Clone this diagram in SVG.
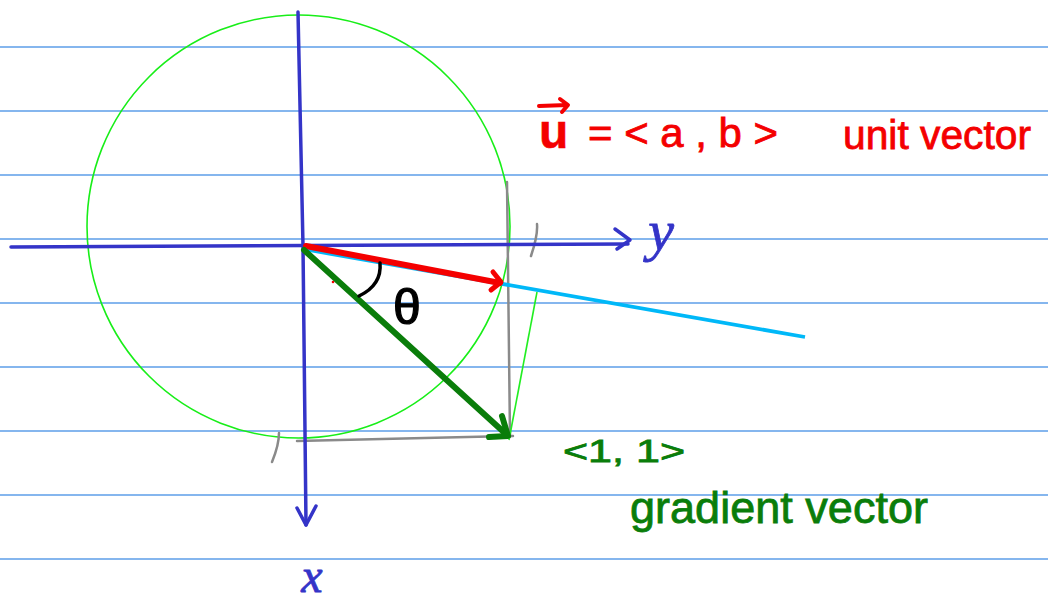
<svg xmlns="http://www.w3.org/2000/svg" width="1048" height="604" viewBox="0 0 1048 604">
<style>
.rule{stroke:#5d9ee8;stroke-width:1.6}
.ax{stroke:#3434c8;stroke-width:3.5;fill:none;stroke-linecap:round;stroke-linejoin:round}
.gray{stroke:#8a8a8a;stroke-width:2.5;fill:none;stroke-linecap:round}
.hw{font-family:"Liberation Sans","DejaVu Sans",sans-serif}
.math{font-family:"Liberation Serif","DejaVu Serif",serif;font-style:italic}
</style>
<rect width="1048" height="604" fill="#fff"/>
<g id="paper">
<line class="rule" x1="0" y1="47" x2="1048" y2="47"/>
<line class="rule" x1="0" y1="111" x2="1048" y2="111"/>
<line class="rule" x1="0" y1="175" x2="1048" y2="175"/>
<line class="rule" x1="0" y1="239" x2="1048" y2="239"/>
<line class="rule" x1="0" y1="303" x2="1048" y2="303"/>
<line class="rule" x1="0" y1="367" x2="1048" y2="367"/>
<line class="rule" x1="0" y1="431" x2="1048" y2="431"/>
<line class="rule" x1="0" y1="495" x2="1048" y2="495"/>
<line class="rule" x1="0" y1="559" x2="1048" y2="559"/>
</g>
<g id="circle">
<ellipse cx="298.5" cy="226.5" rx="211.5" ry="211.5" fill="none" stroke="#18ee18" stroke-width="1.6"/>
</g>
<g id="connectors">
<line class="gray" x1="507" y1="182" x2="510" y2="437"/>
<line class="gray" x1="297" y1="441" x2="513" y2="436"/>
<path class="gray" d="M537 224 Q538 235 531 256"/>
<path class="gray" d="M279 433 Q279 445 272 462"/>
<line x1="537" y1="292" x2="509" y2="440" stroke="#22ee22" stroke-width="1.6"/>
<path class="ax" d="M298 12 L303 246 L306 525"/>
<path class="ax" d="M297 508 L306 525 L316 506"/>
<path class="ax" d="M11 247 L628 244"/>
<path class="ax" d="M615 229 L630 240 L617 249"/>
<line x1="303" y1="249" x2="805" y2="337" stroke="#00b8f8" stroke-width="3.8"/>
<line x1="306" y1="246" x2="500" y2="283" stroke="#f40000" stroke-width="6" stroke-linecap="round"/>
<path d="M493 272 L501 282 L491 290" stroke="#f40000" stroke-width="5" fill="none" stroke-linecap="round" stroke-linejoin="round"/>
<line x1="304" y1="250" x2="507" y2="435" stroke="#0a7d0a" stroke-width="6" stroke-linecap="round"/>
<path d="M502 416 L508 436 L489 437" stroke="#0a7d0a" stroke-width="6" fill="none" stroke-linecap="round" stroke-linejoin="round"/>
<path d="M380 263 Q382 285 359 296" stroke="#000" stroke-width="3.5" fill="none" stroke-linecap="round"/>
<circle cx="333" cy="282" r="1.3" fill="#f40000"/>
</g>
<g id="labels">
<text x="407" y="324" class="hw" font-size="50" text-anchor="middle" stroke="#000" stroke-width="1.2">θ</text>
<text x="661" y="250" class="math" font-size="58" fill="#3434c8" text-anchor="middle" stroke="#3434c8" stroke-width="0.8">y</text>
<text x="312" y="592" class="math" font-size="48" fill="#3434c8" text-anchor="middle" stroke="#3434c8" stroke-width="0.8">x</text>
</g>
<g id="u-label" fill="#f40000" stroke="#f40000">
<path d="M539 106 L567 105 M560 99 L568 105 L562 112" stroke-width="4" fill="none" stroke-linecap="round" stroke-linejoin="round"/>
<text x="539" y="148" class="hw" font-size="48" font-weight="bold" stroke-width="0.5">u</text>
<text x="588" y="147" class="hw" font-size="40" stroke-width="0.8" textLength="190" lengthAdjust="spacingAndGlyphs">= &lt; a , b &gt;</text>
<text x="843" y="149" class="hw" font-size="40" stroke-width="0.8" textLength="188" lengthAdjust="spacingAndGlyphs">unit vector</text>
</g>
<g id="gradient-label" fill="#0a7d0a" stroke="#0a7d0a">
<text x="563" y="462" class="hw" font-size="32" stroke-width="0.8" textLength="122" lengthAdjust="spacingAndGlyphs">&lt;1, 1&gt;</text>
<text x="630" y="523" class="hw" font-size="44" stroke-width="0.8" textLength="298" lengthAdjust="spacingAndGlyphs">gradient vector</text>
</g>
</svg>
